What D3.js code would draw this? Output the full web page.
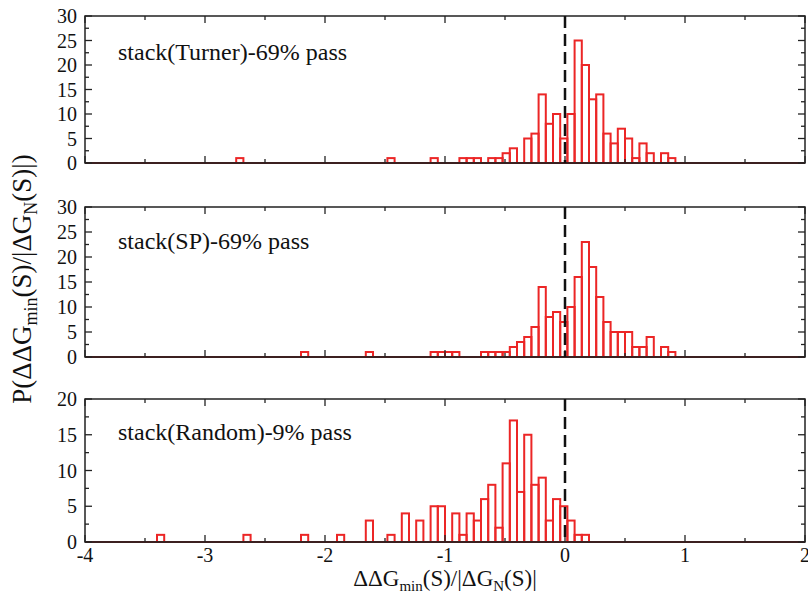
<!DOCTYPE html>
<html>
<head>
<meta charset="utf-8">
<script src="https://cdn.jsdelivr.net/npm/d3@7"></script>
<style>
  html, body { margin: 0; padding: 0; background: #fff; }
  svg { display: block; }
  svg text { font-family: "Liberation Serif", "Times New Roman", Times, serif; }
</style>
</head>
<body>
<svg id="chart" width="808" height="599"></svg>
<script>
// ---------------- data (bin left edges, bin width 0.06) ----------------
const binWidth = 0.06;
const xTicks = [-4, -3, -2, -1, 0, 1, 2];

const turnerX = [-2.74, -1.48, -1.12, -0.88, -0.82, -0.76, -0.64, -0.58, -0.52, -0.46,
                 -0.34, -0.28, -0.22, -0.16, -0.10, -0.04, 0.02, 0.08, 0.14, 0.20,
                 0.26, 0.32, 0.38, 0.44, 0.50, 0.56, 0.62, 0.68, 0.80, 0.86];
const turnerY = [1, 1, 1, 1, 1, 1, 1, 1, 2, 3,
                 5, 6, 14, 8, 10, 5, 10, 25, 20, 13,
                 14, 6, 4, 7, 5, 1, 4, 2, 2, 1];

const spX = [-2.20, -1.66, -1.12, -1.06, -1.00, -0.94, -0.70, -0.64, -0.58, -0.52,
             -0.46, -0.40, -0.34, -0.28, -0.22, -0.16, -0.10, -0.04, 0.02, 0.08,
             0.14, 0.20, 0.26, 0.32, 0.38, 0.44, 0.50, 0.56, 0.62, 0.68, 0.80, 0.86];
const spY = [1, 1, 1, 1, 1, 1, 1, 1, 1, 1,
             2, 3, 4, 6, 14, 8, 9, 7, 10, 16,
             23, 18, 12, 7, 5, 5, 5, 2, 2, 4, 2, 1];

const randomX = [-3.40, -2.68, -2.20, -1.90, -1.66, -1.48, -1.36, -1.24, -1.12, -1.06,
                 -0.94, -0.88, -0.82, -0.76, -0.70, -0.64, -0.58, -0.52, -0.46, -0.40,
                 -0.34, -0.28, -0.22, -0.16, -0.10, -0.04, 0.02, 0.08, 0.14];
const randomY = [1, 1, 1, 1, 3, 1, 4, 3, 5, 5,
                 4, 1, 4, 3, 6, 8, 2, 11, 17, 7,
                 15, 8, 9, 3, 6, 5, 3, 1, 1];

const panelLabels = ["stack(Turner)-69% pass", "stack(SP)-69% pass", "stack(Random)-9% pass"];
const panelYMax = [30, 30, 20];
const panelYTicks = [[0, 5, 10, 15, 20, 25, 30], [0, 5, 10, 15, 20, 25, 30], [0, 5, 10, 15, 20]];

// ---------------- layout ----------------
const FONT = "Liberation Serif, Times New Roman, Times, serif";
const svg = d3.select("#chart");
const left = 85, right = 805;
const panels = [
  { top: 16, bottom: 163, xs: turnerX, ys: turnerY },
  { top: 207, bottom: 357, xs: spX, ys: spY },
  { top: 399, bottom: 542, xs: randomX, ys: randomY }
];
const red = "#ec2626";
const x = d3.scaleLinear().domain([-4, 2]).range([left, right]);
const xMinor = d3.range(-4, 2.001, 0.5);

panels.forEach((p, i) => {
  const y = d3.scaleLinear().domain([0, panelYMax[i]]).range([p.bottom, p.top]);
  const g = svg.append("g");
  const yMinor = d3.range(0, panelYMax[i] + 0.001, 2.5);

  // bars
  g.selectAll("rect.bar").data(p.xs.map((v, j) => ({ x0: v, c: p.ys[j] })))
    .enter().append("rect")
    .attr("x", d => x(d.x0))
    .attr("y", d => y(d.c))
    .attr("width", d => x(d.x0 + binWidth) - x(d.x0))
    .attr("height", d => y(0) - y(d.c))
    .attr("fill", "none")
    .attr("stroke", red)
    .attr("stroke-width", 2);

  // baseline of histogram (red over axis)
  g.append("line")
    .attr("x1", x(-4)).attr("x2", x(2))
    .attr("y1", y(0)).attr("y2", y(0))
    .attr("stroke", "#8a1c1c").attr("stroke-width", 2);

  // frame
  g.append("rect")
    .attr("x", left).attr("y", p.top)
    .attr("width", right - left).attr("height", p.bottom - p.top)
    .attr("fill", "none").attr("stroke", "#222").attr("stroke-width", 1.5);

  // x ticks (inward, top and bottom)
  xMinor.forEach(v => {
    const major = Math.abs(v - Math.round(v)) < 1e-6;
    const len = major ? 7 : 4;
    g.append("line").attr("x1", x(v)).attr("x2", x(v))
      .attr("y1", p.bottom).attr("y2", p.bottom - len)
      .attr("stroke", "#222").attr("stroke-width", 1.3);
    g.append("line").attr("x1", x(v)).attr("x2", x(v))
      .attr("y1", p.top).attr("y2", p.top + len)
      .attr("stroke", "#222").attr("stroke-width", 1.3);
  });

  // y ticks (inward, left and right)
  yMinor.forEach(v => {
    const major = Math.abs(v % 5) < 1e-6;
    const len = major ? 7 : 4;
    g.append("line").attr("x1", left).attr("x2", left + len)
      .attr("y1", y(v)).attr("y2", y(v))
      .attr("stroke", "#222").attr("stroke-width", 1.3);
    g.append("line").attr("x1", right).attr("x2", right - len)
      .attr("y1", y(v)).attr("y2", y(v))
      .attr("stroke", "#222").attr("stroke-width", 1.3);
  });

  // y tick labels
  g.selectAll("text.yt").data(panelYTicks[i]).enter().append("text")
    .attr("x", left - 8).attr("y", d => y(d))
    .attr("dy", "0.35em")
    .attr("text-anchor", "end")
    .attr("font-family", FONT)
    .attr("font-size", 20)
    .attr("fill", "#111")
    .text(d => d);

  // dashed zero line
  g.append("line")
    .attr("x1", x(0)).attr("x2", x(0))
    .attr("y1", p.top).attr("y2", p.bottom)
    .attr("stroke", "#111").attr("stroke-width", 2.5)
    .attr("stroke-dasharray", "12,6");

  // panel label
  g.append("text")
    .attr("x", 118).attr("y", [60, 249, 440][i])
    .attr("font-family", FONT)
    .attr("font-size", 24)
    .attr("fill", "#111")
    .text(panelLabels[i]);

  // x tick labels on bottom panel
  if (i === 2) {
    g.selectAll("text.xt").data(xTicks).enter().append("text")
      .attr("x", d => x(d)).attr("y", p.bottom + 20)
      .attr("text-anchor", "middle")
      .attr("font-family", FONT)
      .attr("font-size", 20)
      .attr("fill", "#111")
      .text(d => d);
  }
});

// x axis title
const xt = svg.append("text")
  .attr("x", x(-1)).attr("y", 586)
  .attr("text-anchor", "middle")
  .attr("font-family", FONT)
  .attr("font-size", 23)
  .attr("fill", "#111");
xt.append("tspan").text("ΔΔG");
xt.append("tspan").attr("font-size", 15).attr("dy", 5).text("min");
xt.append("tspan").attr("dy", -5).text("(S)/|ΔG");
xt.append("tspan").attr("font-size", 15).attr("dy", 5).text("N");
xt.append("tspan").attr("dy", -5).text("(S)|");

// y axis title
const yt = svg.append("text")
  .attr("transform", "translate(31,279) rotate(-90)")
  .attr("text-anchor", "middle")
  .attr("font-family", FONT)
  .attr("font-size", 27)
  .attr("fill", "#111");
yt.append("tspan").text("P(ΔΔG");
yt.append("tspan").attr("font-size", 18).attr("dy", 6).text("min");
yt.append("tspan").attr("dy", -6).text("(S)/|ΔG");
yt.append("tspan").attr("font-size", 18).attr("dy", 6).text("N");
yt.append("tspan").attr("dy", -6).text("(S)|)");
</script>
</body>
</html>
